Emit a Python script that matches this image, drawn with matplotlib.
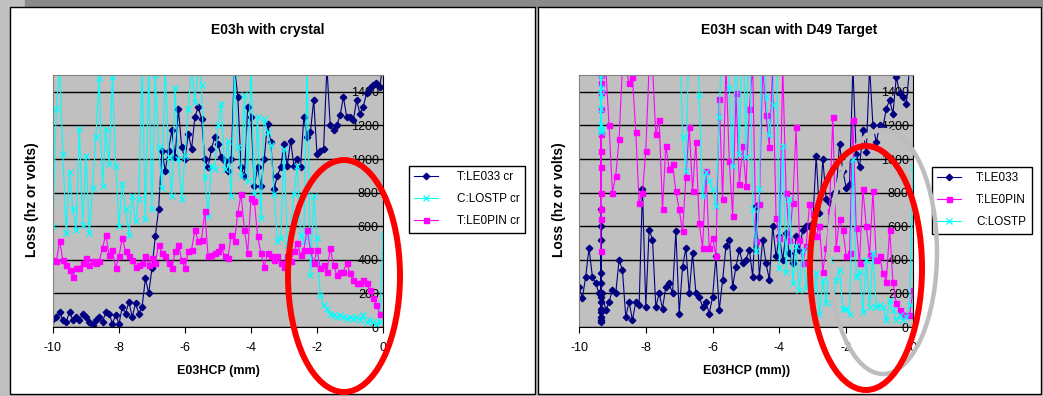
import matplotlib
matplotlib.use("Agg")
import matplotlib.pyplot as plt
from matplotlib.patches import Ellipse, Rectangle
import numpy as np

plt.rcParams["font.family"] = ["Liberation Sans", "DejaVu Sans"]
plt.rcParams["axes.unicode_minus"] = False

W, H = 1043, 396

# ---- left chart: E03h with crystal (scan position in mm, 0.1 mm steps)
X_LEFT = [
    -10.0, -9.9, -9.8, -9.7, -9.6, -9.5, -9.4, -9.3, -9.2, -9.1,
    -9.0, -8.9, -8.8, -8.7, -8.6, -8.5, -8.4, -8.3, -8.2, -8.1,
    -8.0, -7.9, -7.8, -7.7, -7.6, -7.5, -7.4, -7.3, -7.2, -7.1,
    -7.0, -6.9, -6.8, -6.7, -6.6, -6.5, -6.4, -6.3, -6.2, -6.1,
    -6.0, -5.9, -5.8, -5.7, -5.6, -5.5, -5.4, -5.3, -5.2, -5.1,
    -5.0, -4.9, -4.8, -4.7, -4.6, -4.5, -4.4, -4.3, -4.2, -4.1,
    -4.0, -3.9, -3.8, -3.7, -3.6, -3.5, -3.4, -3.3, -3.2, -3.1,
    -3.0, -2.9, -2.8, -2.7, -2.6, -2.5, -2.4, -2.3, -2.2, -2.1,
    -2.0, -1.9, -1.8, -1.7, -1.6, -1.5, -1.4, -1.3, -1.2, -1.1,
    -1.0, -0.9, -0.8, -0.7, -0.6, -0.5, -0.4, -0.3, -0.2, -0.1,
    0.0,
]
LE033_CR = [
    50, 60, 90, 40, 30, 90, 40, 60, 40, 80,
    60, 30, 10, 40, 60, 30, 90, 80, 20, 70,
    20, 120, 80, 150, 60, 140, 80, 120, 290, 200,
    350, 540, 700, 1050, 930, 1050, 1170, 1010, 1300, 1070,
    1000, 1150, 1060, 1250, 1310, 1240, 1000, 950, 1060, 1130,
    1090, 1010, 990, 930, 1000, 1550, 1370, 950, 900, 1310,
    1250, 840, 950, 840, 1000, 1210, 1100, 820, 900, 950,
    1090, 960, 1110, 960, 1000, 950, 1250, 1130, 1160, 1350,
    1030, 1050, 1060, 1550, 1200, 1170, 1200, 1260, 1370, 1250,
    1250, 1230, 1350, 1270, 1310, 1390, 1420, 1440, 1450, 1430,
    1560,
]
LOSTP_CR = [
    600, 1300, 1550, 1030, 560, 920, 700, 580, 1180, 610,
    1020, 560, 830, 1130, 1480, 840, 1180, 970, 1490, 960,
    600, 850, 700, 550, 780, 630, 760, 1550, 640, 1550,
    700, 1500, 1070, 830, 1550, 1010, 780, 1420, 1000, 760,
    1020, 1300, 1550, 1340, 1550, 1440, 890, 660, 960, 940,
    1200, 1330, 940, 1110, 780, 1510, 1070, 900, 1380, 870,
    1560, 790, 1250, 650, 1240, 1160, 1085, 790, 510, 530,
    1060, 490, 560, 790, 960, 550, 510, 1550, 310, 780,
    530, 190, 130, 110, 80, 70, 60, 70, 60, 50,
    60, 50, 60, 40, 70, 30, 40, 30, 20, 30,
    550,
]
LE0PIN_CR = [
    400, 390, 510, 400, 370, 340, 300, 350, 350, 380,
    410, 370, 390, 380, 390, 470, 550, 430, 460, 350,
    420, 530, 450, 420, 400, 360, 370, 380, 420, 370,
    410, 380, 490, 440, 420, 380, 350, 450, 490, 400,
    350, 450, 460, 580, 510, 520, 690, 420, 430, 440,
    450, 480, 420, 410, 550, 510, 680, 790, 580, 440,
    770, 750, 540, 440, 360, 440, 420, 400, 420, 380,
    360, 420, 390, 450, 500, 430, 460, 580, 460, 380,
    460, 350, 370, 330, 470, 370, 310, 330, 330, 380,
    320, 280, 260, 260, 280, 260, 220, 170, 130, 80,
    80,
]

# ---- right chart: E03H scan with D49 Target (repeated readings at -9.35)
X_RIGHT = (
    [-10.0, -9.9, -9.8, -9.7, -9.6, -9.5, -9.4]
    + [-9.35] * 12
    + [-9.3, -9.2, -9.1] + X_LEFT[10:]
)
LE033 = [
    240, 170, 300, 470, 300, 260, 200,
    150, 40, 320, 90, 700, 30, 520, 110, 260, 60, 600, 180,
    200, 100, 150,
    220, 200, 400, 340, 60, 150, 40, 150, 130, 820,
    120, 580, 520, 120, 200, 110, 240, 260, 200, 570,
    80, 360, 470, 200, 440, 200, 180, 120, 150, 80,
    180, 420, 100, 280, 480, 520, 240, 360, 460, 380,
    400, 460, 300, 720, 300, 520, 380, 280, 600, 420,
    540, 400, 560, 440, 380, 540, 460, 580, 600, 600,
    620, 1020, 680, 1000, 760, 740, 790, 810, 1090, 930,
    830, 850, 1550, 1030, 950, 1170, 1040, 1550, 1200, 1100,
    1200, 1190, 1300, 1350, 1270, 1490, 1390, 1370, 1330, 1550,
    1550,
]
LE0PIN = [
    None, None, None, None, None, None, None,
    450, 640, 1500, 800, 1400, 950, 1150, 700, 1300, 1050, 1450, 1550,
    1550, 1550, 1200,
    800, 900, 1120, 1550, 1550, 1450, 1490, 1160, 740, 800,
    1050, 1550, 1550, 1150, 1230, 700, 1080, 940, 970, 810,
    700, 570, 890, 1190, 810, 1100, 620, 470, 930, 470,
    530, 420, 1360, 760, 1550, 990, 660, 1390, 850, 1080,
    840, 1300, 1550, 510, 730, 1550, 1260, 1070, 1550, 650,
    530, 1550, 800, 520, 740, 1190, 520, 380, 480, 730,
    670, 540, 600, 330, 470, 690, 1250, 470, 640, 580,
    420, 440, 1230, 590, 380, 820, 600, 430, 810, 400,
    420, 320, 270, 580, 270, 140, 100, 70, 70, 70,
    220,
]
# values above ~1500 run off the top of the plot in the original
LOSTP = [
    None, None, None, None, None, None, None,
    1550, 1500, 1380, 1180, 1160, 1550, 1420, 1200, 1550, 1300, 1170, 1550,
    1800, 2000, 1900,
    1800, 2100, 1900, 2000, 1800, 1900, 2100, 1800, 2000, 1900,
    1800, 2000, 1900, 2100, 1800, 1900, 2000, 1800, 2100, 1900,
    1900, 1130, 930, 1800, 2000, 1900, 1380, 780, 920, 870,
    820, 720, 1250, 1900, 2000, 1420, 960, 1800, 1030, 1900,
    1010, 1900, 700, 450, 820, 2000, 1370, 1140, 1320, 1900,
    350, 1080, 330, 760, 260, 480, 220, 460, 230, 470,
    130, 320, 80, 280, 140, 400, 140, 280, 340, 110,
    110, 80, 1000, 300, 330, 90, 400, 120, 440, 120,
    130, 120, 40, 160, 100, 40, 70, 40, 60, 130,
    950,
]

NAVY, CYAN, MAGENTA = "#000080", "#00ffff", "#ff00ff"
STYLE = {
    NAVY: dict(marker="D", markersize=3.3),
    CYAN: dict(marker="x", markersize=4.5, markeredgewidth=0.9),
    MAGENTA: dict(marker="s", markersize=3.6),
}


def px(x, y):
    return x / W, 1 - y / H


def draw_chart(ax, x, series):
    ax.set_facecolor("#c0c0c0")
    for values, color, label in series:
        y = np.array(values, dtype=float)
        ax.plot(x, y, color=color, lw=0.8, label=label, clip_on=True,
                markerfacecolor=color, markeredgecolor=color, **STYLE[color])
    ax.set_xlim(-10, 0)
    ax.set_ylim(0, 1500)
    ax.set_xticks([-10, -8, -6, -4, -2, 0])
    ax.set_yticks(range(0, 1401, 200))
    ax.grid(axis="y", color="black", lw=1)
    ax.yaxis.set_ticks_position("right")
    ax.tick_params(axis="y", length=0, pad=-3, labelsize=9)
    ax.tick_params(axis="x", length=4, pad=7, labelsize=9, direction="out")
    for t in ax.get_yticklabels():
        t.set_horizontalalignment("right")
    for s in ("left", "top"):
        ax.spines[s].set_color("#808080")
    for s in ("right", "bottom"):
        ax.spines[s].set_color("black")


if __name__ == "__main__":
    fig = plt.figure(figsize=(W / 100, H / 100), dpi=100)

    # window frame and the two chart panels
    bg = fig.add_axes([0, 0, 1, 1], zorder=-1)
    bg.set_xlim(0, W)
    bg.set_ylim(H, 0)
    bg.axis("off")
    bg.add_patch(Rectangle((0, 0), W, H, color="#c0c0c0"))
    bg.add_patch(Rectangle((25, 0), W - 25, 7, color="#8a8a8a"))
    bg.add_patch(Rectangle((10, 7), 525, 387, facecolor="white", edgecolor="black", lw=1))
    bg.add_patch(Rectangle((538, 7), 503, 387, facecolor="white", edgecolor="black", lw=1))

    ax1 = fig.add_axes([53 / W, 1 - 327 / H, 330 / W, 252 / H])
    ax2 = fig.add_axes([579 / W, 1 - 327 / H, 334 / W, 252 / H])

    draw_chart(ax1, X_LEFT, [(LE033_CR, NAVY, "T:LE033 cr"),
                             (LOSTP_CR, CYAN, "C:LOSTP cr"),
                             (LE0PIN_CR, MAGENTA, "T:LE0PIN cr")])
    draw_chart(ax2, X_RIGHT, [(LE033, NAVY, "T:LE033"),
                              (LE0PIN, MAGENTA, "T:LE0PIN"),
                              (LOSTP, CYAN, "C:LOSTP")])

    fig.text(*px(268, 30), "E03h with crystal", ha="center", va="center",
             fontsize=10, weight="bold")
    fig.text(*px(789, 30), "E03H scan with D49 Target", ha="center", va="center",
             fontsize=10, weight="bold")
    fig.text(*px(32, 200), "Loss (hz or volts)", rotation=90, ha="center",
             va="center", fontsize=10, weight="bold")
    fig.text(*px(559, 200), "Loss (hz or volts)", rotation=90, ha="center",
             va="center", fontsize=10, weight="bold")
    fig.text(*px(218, 371), "E03HCP (mm)", ha="center", va="center",
             fontsize=9, weight="bold")
    fig.text(*px(747, 371), "E03HCP (mm))", ha="center", va="center",
             fontsize=9, weight="bold")

    for ax, (lx, ly), pad in ((ax1, (409, 166), 1.6), (ax2, (932, 167), 1.3)):
        h, l = ax.get_legend_handles_labels()
        leg = fig.legend(h, l, loc="upper left", bbox_to_anchor=px(lx, ly),
                         borderaxespad=0, fontsize=8.5, handlelength=2.0,
                         handletextpad=pad, labelspacing=0.85, borderpad=0.45,
                         fancybox=False, edgecolor="black", framealpha=1)
        leg.get_frame().set_linewidth(1)

    # hand-drawn highlight rings on top of everything
    top = fig.add_axes([0, 0, 1, 1], zorder=10)
    top.set_xlim(0, W)
    top.set_ylim(H, 0)
    top.axis("off")
    top.patch.set_alpha(0)
    top.add_patch(Ellipse((883, 252), 108, 244, fill=False, edgecolor="#bdbdbd", lw=3.2))
    top.add_patch(Ellipse((344, 276), 112, 232, fill=False, edgecolor="red", lw=4.3))
    top.add_patch(Ellipse((866, 268), 112, 244, fill=False, edgecolor="red", lw=4.3))

    fig.savefig("out.png", dpi=100)
